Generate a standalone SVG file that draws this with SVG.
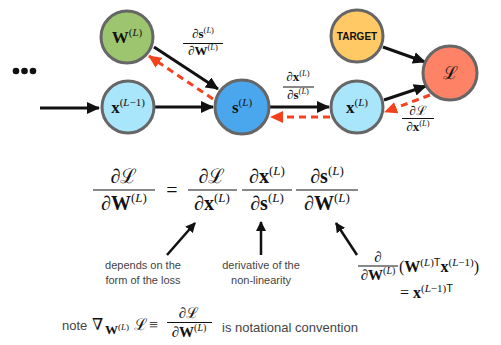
<svg xmlns="http://www.w3.org/2000/svg" width="501" height="345" viewBox="0 0 501 345">
<style>
.node{stroke:#666;stroke-width:3}
.m{font-family:"Liberation Serif","DejaVu Serif",serif;fill:#111}
.b{font-weight:bold}
.i{font-style:italic}
.sans{font-family:"Liberation Sans","DejaVu Sans",sans-serif;fill:#444}
.fw{stroke:#111;stroke-width:3;fill:none;marker-end:url(#ah)}
.bw{stroke:#F4421E;stroke-width:3;fill:none;stroke-dasharray:7,5;marker-end:url(#rh)}
.bar{stroke:#111;stroke-width:1}
.pa{stroke:#111;stroke-width:2.5;fill:none;marker-end:url(#ah2)}
</style>
<defs>
<marker id="ah" markerUnits="userSpaceOnUse" markerWidth="13" markerHeight="12" refX="12" refY="6" orient="auto"><path d="M0,0 L13,6 L0,12 z" fill="#111"/></marker>
<marker id="rh" markerUnits="userSpaceOnUse" markerWidth="13" markerHeight="12" refX="12" refY="6" orient="auto"><path d="M0,0 L13,6 L0,12 z" fill="#F4421E"/></marker>
<marker id="ah2" markerUnits="userSpaceOnUse" markerWidth="10" markerHeight="10" refX="9" refY="5" orient="auto"><path d="M0,0 L10,5 L0,10 z" fill="#111"/></marker>
</defs>
<rect width="501" height="345" fill="#fff"/>

<g id="connectors">
<line class="fw" x1="40" y1="108" x2="99" y2="108"/>
<line class="fw" x1="155" y1="107" x2="213" y2="107"/>
<line class="fw" x1="154" y1="47" x2="218" y2="89"/>
<line class="bw" x1="213" y1="99" x2="149" y2="56"/>
<line class="fw" x1="270" y1="107" x2="329" y2="107"/>
<line class="bw" x1="330" y1="117" x2="271" y2="117"/>
<line class="fw" x1="383" y1="47" x2="425" y2="62"/>
<line class="fw" x1="384" y1="100" x2="426" y2="86"/>
<line class="bw" x1="430" y1="95" x2="385" y2="112"/>
</g>

<g id="dots" fill="#111">
<circle cx="16" cy="71" r="3.3"/><circle cx="24.5" cy="71" r="3.3"/><circle cx="33" cy="71" r="3.3"/>
</g>

<g id="node-W">
<circle class="node" cx="127" cy="37" r="26" fill="#9DC56F"/>
<text class="m" x="127" y="43" text-anchor="middle"><tspan class="b" font-size="17">W</tspan><tspan font-size="11" dy="-7">(<tspan class="i">L</tspan>)</tspan></text>
</g>
<g id="node-xLm1">
<circle class="node" cx="128" cy="107" r="26" fill="#A9E5FB"/>
<text class="m" x="128" y="113" text-anchor="middle"><tspan class="b" font-size="17">x</tspan><tspan font-size="11" dy="-7">(<tspan class="i">L</tspan>−1)</tspan></text>
</g>
<g id="node-s">
<circle class="node" cx="242" cy="107" r="27" fill="#4AA7EE"/>
<text class="m" x="242" y="113" text-anchor="middle"><tspan class="b" font-size="17">s</tspan><tspan font-size="11" dy="-7">(<tspan class="i">L</tspan>)</tspan></text>
</g>
<g id="node-target">
<circle class="node" cx="357" cy="36" r="26" fill="#FFC965"/>
<text x="357" y="40" text-anchor="middle" font-family="Liberation Sans, DejaVu Sans, sans-serif" font-weight="bold" font-size="10" fill="#111">TARGET</text>
</g>
<g id="node-L">
<circle class="node" cx="450" cy="73" r="27" fill="#FE8366"/>
<text class="m" x="450" y="79" text-anchor="middle" font-size="18">ℒ</text>
</g>
<g id="node-xL">
<circle class="node" cx="357" cy="107" r="26" fill="#A9E5FB"/>
<text class="m" x="357" y="113" text-anchor="middle"><tspan class="b" font-size="17">x</tspan><tspan font-size="11" dy="-7">(<tspan class="i">L</tspan>)</tspan></text>
</g>

<g id="edge-labels">
<text class="m" x="203" y="38" text-anchor="middle" font-size="13">∂<tspan class="b">s</tspan><tspan font-size="8.5" dy="-5">(<tspan class="i">L</tspan>)</tspan></text>
<line class="bar" x1="183" y1="43.5" x2="223" y2="43.5"/>
<text class="m" x="203" y="55" text-anchor="middle" font-size="13">∂<tspan class="b">W</tspan><tspan font-size="8.5" dy="-5">(<tspan class="i">L</tspan>)</tspan></text>

<text class="m" x="298" y="81" text-anchor="middle" font-size="13">∂<tspan class="b">x</tspan><tspan font-size="8.5" dy="-5">(<tspan class="i">L</tspan>)</tspan></text>
<line class="bar" x1="283" y1="87" x2="314" y2="87"/>
<text class="m" x="298" y="99" text-anchor="middle" font-size="13">∂<tspan class="b">s</tspan><tspan font-size="8.5" dy="-5">(<tspan class="i">L</tspan>)</tspan></text>

<text class="m" x="418" y="115" text-anchor="middle" font-size="13">∂ℒ</text>
<line class="bar" x1="402" y1="118.5" x2="434" y2="118.5"/>
<text class="m" x="418" y="131" text-anchor="middle" font-size="13">∂<tspan class="b">x</tspan><tspan font-size="8.5" dy="-5">(<tspan class="i">L</tspan>)</tspan></text>
</g>

<g id="equation">
<text class="m" x="124" y="183" text-anchor="middle" font-size="20">∂ℒ</text>
<line class="bar" x1="93" y1="190" x2="155" y2="190"/>
<text class="m" x="124" y="210" text-anchor="middle" font-size="20">∂<tspan class="b">W</tspan><tspan font-size="13" dy="-8">(<tspan class="i">L</tspan>)</tspan></text>
<text class="m" x="172" y="197" text-anchor="middle" font-size="20">=</text>
<text class="m" x="212" y="183" text-anchor="middle" font-size="20">∂ℒ</text>
<line class="bar" x1="188" y1="190" x2="237" y2="190"/>
<text class="m" x="212" y="210" text-anchor="middle" font-size="20">∂<tspan class="b">x</tspan><tspan font-size="13" dy="-8">(<tspan class="i">L</tspan>)</tspan></text>
<text class="m" x="267" y="183" text-anchor="middle" font-size="20">∂<tspan class="b">x</tspan><tspan font-size="13" dy="-8">(<tspan class="i">L</tspan>)</tspan></text>
<line class="bar" x1="242" y1="190" x2="292" y2="190"/>
<text class="m" x="267" y="210" text-anchor="middle" font-size="20">∂<tspan class="b">s</tspan><tspan font-size="13" dy="-8">(<tspan class="i">L</tspan>)</tspan></text>
<text class="m" x="327" y="183" text-anchor="middle" font-size="20">∂<tspan class="b">s</tspan><tspan font-size="13" dy="-8">(<tspan class="i">L</tspan>)</tspan></text>
<line class="bar" x1="296" y1="190" x2="358" y2="190"/>
<text class="m" x="327" y="210" text-anchor="middle" font-size="20">∂<tspan class="b">W</tspan><tspan font-size="13" dy="-8">(<tspan class="i">L</tspan>)</tspan></text>
</g>

<g id="annotations">
<line class="pa" x1="167" y1="255" x2="195" y2="223"/>
<line class="pa" x1="261" y1="255" x2="261" y2="222"/>
<line class="pa" x1="357" y1="255" x2="336" y2="223"/>
<text class="sans" x="143" y="269" text-anchor="middle" font-size="11">depends on the</text>
<text class="sans" x="143" y="284" text-anchor="middle" font-size="11">form of the loss</text>
<text class="sans" x="261" y="269" text-anchor="middle" font-size="11">derivative of the</text>
<text class="sans" x="261" y="284" text-anchor="middle" font-size="11">non-linearity</text>

<text class="m" x="378" y="262" text-anchor="middle" font-size="15">∂</text>
<line class="bar" x1="358" y1="266" x2="398" y2="266"/>
<text class="m" x="378" y="280" text-anchor="middle" font-size="15">∂<tspan class="b">W</tspan><tspan font-size="10" dy="-6">(<tspan class="i">L</tspan>)</tspan></text>
<text class="m" x="399" y="272" font-size="16">(<tspan class="b">W</tspan><tspan font-size="11" dy="-6">(<tspan class="i">L</tspan>)<tspan font-family="Liberation Sans, sans-serif">T</tspan></tspan><tspan class="b" dy="6">x</tspan><tspan font-size="11" dy="-6">(<tspan class="i">L</tspan>−1)</tspan><tspan dy="6">)</tspan></text>
<text class="m" x="400" y="298" font-size="16">= <tspan class="b">x</tspan><tspan font-size="11" dy="-6">(<tspan class="i">L</tspan>−1)<tspan font-family="Liberation Sans, sans-serif">T</tspan></tspan></text>
</g>

<g id="note">
<text class="sans" x="62" y="330" font-size="13" fill="#222">note</text>
<text class="m" x="92" y="330" font-size="16">∇</text>
<text class="m" x="105" y="334" font-size="13"><tspan class="b">W</tspan><tspan font-size="9" dy="-4">(<tspan class="i">L</tspan>)</tspan></text>
<text class="m" x="134" y="330" font-size="16">ℒ</text>
<text class="m" x="149" y="330" font-size="16">≡</text>
<text class="m" x="189" y="318" text-anchor="middle" font-size="15">∂ℒ</text>
<line class="bar" x1="167" y1="322.5" x2="212" y2="322.5"/>
<text class="m" x="189" y="337" text-anchor="middle" font-size="15">∂<tspan class="b">W</tspan><tspan font-size="10" dy="-6">(<tspan class="i">L</tspan>)</tspan></text>
<text class="sans" x="222" y="332" font-size="13" fill="#222">is notational convention</text>
</g>
</svg>
